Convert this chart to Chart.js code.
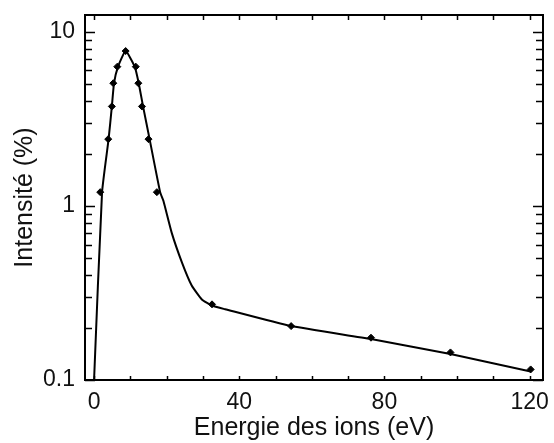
<!DOCTYPE html>
<html>
<head>
<meta charset="utf-8">
<script src="https://cdn.jsdelivr.net/npm/chart.js@4"></script>
<style>
  html, body { margin: 0; padding: 0; background: #fff; }
  #wrap { width: 554px; height: 443px; position: relative; }
</style>
</head>
<body>
<div id="wrap"><canvas id="ionChart"></canvas></div>
<script>
// measured points (markers)
const markerEnergy = [1.7, 3.9, 4.9, 5.3, 6.4, 8.7, 11.5, 12.2, 13.2, 15.0, 17.3, 32.5, 54.3, 76.3, 98.2, 120.3];
const markerIntensity = [1.2, 2.42, 3.73, 5.07, 6.31, 7.76, 6.31, 5.07, 3.73, 2.42, 1.2, 0.272, 0.204, 0.175, 0.144, 0.115];

// fitted curve drawn through the points
const curveEnergy = [0, 2.2, 4.0, 4.9, 5.5, 6.6, 8.7, 11.2, 12.3, 13.5, 15.3, 18.2, 19.1, 21.4, 24.2, 26.9, 29.7, 32.4, 36.1, 54.3, 76.3, 98.2, 120.3];
const curveIntensity = [0.1, 1.2, 2.42, 3.73, 5.07, 6.31, 7.76, 6.31, 5.07, 3.73, 2.42, 1.2, 1.07, 0.70, 0.474, 0.349, 0.29, 0.268, 0.255, 0.204, 0.172, 0.141, 0.112];

const xLabelValues = [0, 40, 80, 120];
const yLabelValues = [0.1, 1, 10];

const fontFamily = '"Liberation Sans", Arial, Helvetica, sans-serif';

const toXY = (xs, ys) => xs.map((x, i) => ({ x: x, y: ys[i] }));

// inward tick marks + closed frame, like the original plot
const framePlugin = {
  id: "frame",
  afterDraw(chart) {
    const { ctx, chartArea } = chart;
    const { left, right, top, bottom } = chartArea;
    const xScale = chart.scales.x;
    const yScale = chart.scales.y;
    ctx.save();
    ctx.strokeStyle = "#000";

    ctx.lineWidth = 1.5;
    ctx.beginPath();
    xScale.ticks.forEach((t) => {
      if (Math.abs(t.value % 10) > 1e-6) return;
      const px = Math.round(xScale.getPixelForValue(t.value)) + 0.5;
      ctx.moveTo(px, bottom);
      ctx.lineTo(px, bottom - 4);
      ctx.moveTo(px, top);
      ctx.lineTo(px, top + 5);
    });
    yScale.ticks.forEach((t) => {
      const exp = Math.floor(Math.log10(t.value) + 1e-9);
      const sig = t.value / Math.pow(10, exp);
      if (Math.abs(sig - Math.round(sig)) > 1e-6) return;
      const len = Math.round(sig) === 1 ? 10 : 7;
      const py = Math.round(yScale.getPixelForValue(t.value)) + 0.5;
      ctx.moveTo(left, py);
      ctx.lineTo(left + len, py);
      ctx.moveTo(right, py);
      ctx.lineTo(right - len, py);
    });
    ctx.stroke();

    ctx.lineWidth = 2;
    ctx.strokeRect(left, top, right - left, bottom - top);
    ctx.restore();
  },
};

new Chart(document.getElementById("ionChart").getContext("2d"), {
  type: "scatter",
  data: {
    datasets: [
      {
        label: "courbe",
        data: toXY(curveEnergy, curveIntensity),
        showLine: true,
        borderColor: "#000",
        borderWidth: 2,
        pointRadius: 0,
        tension: 0.15,
      },
      {
        label: "mesures",
        data: toXY(markerEnergy, markerIntensity),
        showLine: false,
        pointStyle: "rectRot",
        pointRadius: 3.5,
        backgroundColor: "#000",
        borderColor: "#000",
        borderWidth: 1,
      },
    ],
  },
  options: {
    responsive: true,
    maintainAspectRatio: false,
    animation: false,
    layout: { padding: { top: 15, right: 11, left: 0, bottom: 0 } },
    plugins: {
      legend: { display: false },
      tooltip: { enabled: false },
    },
    scales: {
      x: {
        type: "linear",
        min: -2.5,
        max: 123.7,
        afterFit: (scale) => {
          scale.height = 63;
          scale.paddingLeft = 0;
          scale.paddingRight = 0;
        },
        border: { display: false },
        grid: { display: false, drawTicks: false },
        ticks: {
          stepSize: 10,
          includeBounds: false,
          autoSkip: false,
          maxRotation: 0,
          padding: 9,
          color: "#111",
          font: { family: fontFamily, size: 23 },
          callback: (v) => (xLabelValues.includes(v) ? String(v) : ""),
        },
        title: {
          display: true,
          text: "Energie des ions (eV)",
          color: "#111",
          font: { family: fontFamily, size: 25 },
          padding: { top: 0, bottom: 0 },
        },
      },
      y: {
        type: "logarithmic",
        min: 0.1,
        max: 12.5,
        afterFit: (scale) => {
          scale.width = 85;
          scale.paddingTop = 0;
          scale.paddingBottom = 0;
        },
        border: { display: false },
        grid: { display: false, drawTicks: false },
        ticks: {
          autoSkip: false,
          padding: 10,
          color: "#111",
          font: { family: fontFamily, size: 23 },
          callback: (v) => {
            const hit = yLabelValues.find((l) => Math.abs(l - v) < 1e-9);
            return hit !== undefined ? String(hit) : "";
          },
        },
        title: {
          display: true,
          text: "Intensité (%)",
          color: "#111",
          font: { family: fontFamily, size: 25 },
          padding: { top: 10, bottom: 0 },
        },
      },
    },
  },
  plugins: [framePlugin],
});
</script>
</body>
</html>
